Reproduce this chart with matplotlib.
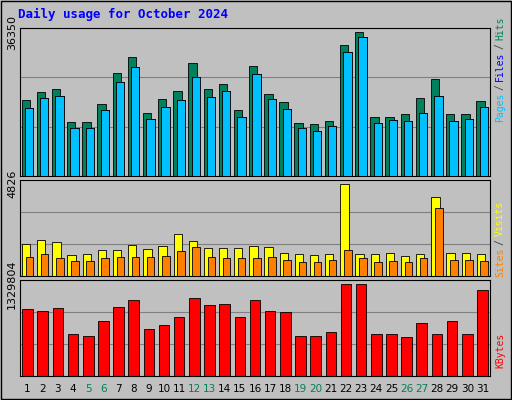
import matplotlib
matplotlib.use("Agg")
import matplotlib.pyplot as plt
from matplotlib.patches import Rectangle

days = list(range(1, 32))
hits = [19170,21165,21910,13695,13695,18180,25900,30130,15940,19420,21410,28635,21910,23160,16680,27890,20670,18675,13445,13200,13945,33120,36350,14940,14940,15690,19670,24400,15690,15690,18925]
files = [17180,19670,20170,12200,12200,16680,23655,27390,14440,17430,19170,24900,19920,21415,14940,25650,19420,16930,12200,11455,12700,31375,35110,13445,14195,13945,15935,20170,13945,14440,17430]
pages = files
visits = [1679,1889,1784,1102,1154,1364,1364,1626,1416,1574,2203,1836,1469,1469,1469,1574,1521,1207,1154,1102,1154,4826,1154,1154,1207,1049,1154,4144,1207,1207,1154]
sites = [997,1154,944,787,787,944,997,997,997,1049,1311,1521,997,944,944,944,997,839,734,734,839,1364,944,734,787,734,944,3567,839,839,787]
kbytes = [968400,939500,982900,607100,578200,795000,997300,1098500,679300,737200,852800,1127400,1026200,1040700,852800,1098500,939500,925100,578200,578200,636000,1329804,1329804,607100,607100,563700,766100,607100,795000,607100,1243000]
weekends = [5,6,12,13,19,20,26,27]

W, H = 512, 400
fig = plt.figure(figsize=(W/100, H/100), dpi=100, facecolor="#C0C0C0")
mono = "DejaVu Sans Mono"

def ax_at(top, bot):
    a = fig.add_axes([20/W, 1-bot/H, 470/W, (bot-top)/H])
    a.set_facecolor("#C0C0C0")
    a.set_xlim(0.5, 31.5)
    a.tick_params(length=0)
    a.set_xticks([])
    for s in a.spines.values():
        s.set_color("black"); s.set_linewidth(0.8)
    return a

def setup_y(a, mx, top, bot):
    h = bot - top
    a.set_ylim(0, mx * h / (h - 4))
    a.set_yticks([mx])
    a.set_yticklabels([str(mx)], rotation=90, va="center", fontsize=8, family=["DejaVu Sans"])
    a.tick_params(axis="y", pad=2)
    for f in (1/3, 2/3):
        a.axhline(mx * h / (h - 4) * f, color="#808080", lw=0.8, zorder=0)

a1 = ax_at(28, 176)
setup_y(a1, 36350, 28, 176)
a1.bar([d - 0.12 for d in days], hits, width=0.55, color="#00805C", edgecolor="black", lw=0.6, zorder=2)
a1.bar([d + 0.1 for d in days], files, width=0.55, color="#0000FF", edgecolor="black", lw=0.6, zorder=3)
a1.bar([d + 0.1 for d in days], pages, width=0.55, color="#00C0FF", edgecolor="black", lw=0.6, zorder=4)

a2 = ax_at(180, 276)
setup_y(a2, 4826, 180, 276)
a2.bar([d - 0.1 for d in days], visits, width=0.55, color="#FFFF00", edgecolor="black", lw=0.6, zorder=2)
a2.bar([d + 0.12 for d in days], sites, width=0.5, color="#FF8000", edgecolor="black", lw=0.6, zorder=3)

a3 = ax_at(280, 376)
setup_y(a3, 1329804, 280, 376)
a3.bar(days, kbytes, width=0.7, color="#FF0000", edgecolor="black", lw=0.6, zorder=2)
a3.set_xticks(days)
a3.set_xticklabels([str(d) for d in days], fontsize=7.5)
for lbl, d in zip(a3.get_xticklabels(), days):
    lbl.set_color("#00805C" if d in weekends else "black")
a3.tick_params(axis="x", pad=6)

fig.text(18/W, 1-14/H, "Daily usage for October 2024", color="#0000FF",
         fontsize=9, fontweight="bold", family=mono, va="center")

def side(parts, start_y):
    y = start_y
    for txt, col in parts:
        fig.text(500/W, 1-y/H, txt, rotation=90, color=col, fontsize=7,
                 family=mono, ha="center", va="bottom")
        y -= len(txt) * 5.85 + 3

side([("Pages", "#00C0FF"), ("/", "#404040"), ("Files", "#0000FF"),
      ("/", "#404040"), ("Hits", "#00805C")], 122)
side([("Sites", "#FF8000"), ("/", "#404040"), ("Visits", "#FFFF00")], 277)
side([("KBytes", "#FF0000")], 368)

fig.add_artist(Rectangle((0.002, 0.002), 0.996, 0.996, transform=fig.transFigure,
                         fill=False, edgecolor="black", lw=1))
fig.savefig("out.png", dpi=100, facecolor=fig.get_facecolor())
